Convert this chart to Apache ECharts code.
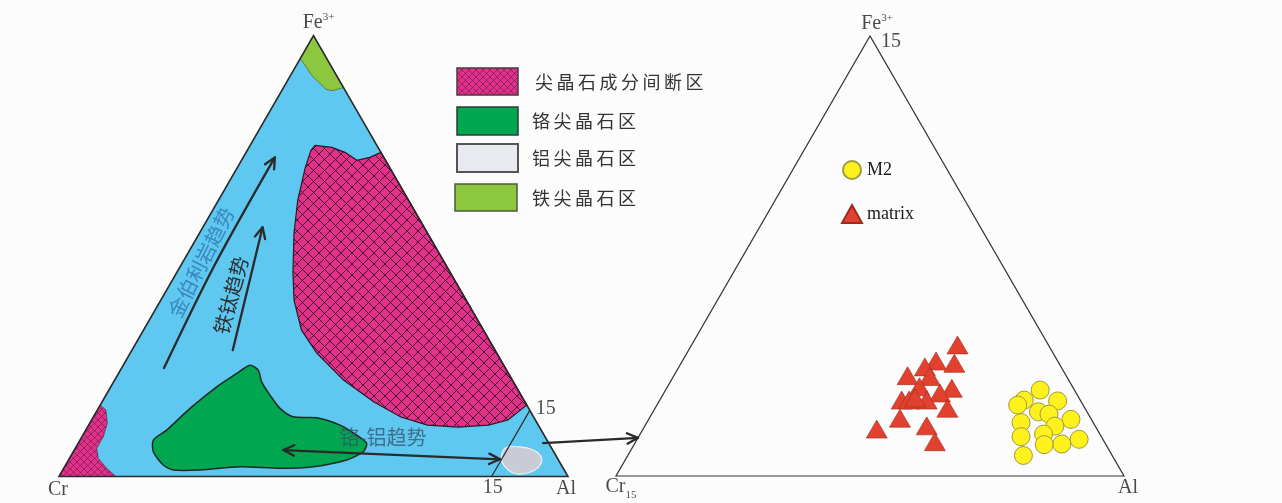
<!DOCTYPE html>
<html>
<head>
<meta charset="utf-8">
<script src="https://cdn.jsdelivr.net/npm/echarts@6/dist/echarts.min.js"></script>
<style>
  html, body { margin: 0; padding: 0; background: #fcfcfc; }
  #chart { width: 1282px; height: 503px; }
</style>
</head>
<body>
<div id="chart"></div>
<script>
// Cr – Al – Fe3+ ternary classification of spinel, with an enlargement of the Al corner.
// Every composition below is written as [Al, Fe3+] in percent; Cr makes up the rest.

const vertexLabels = ['Cr', 'Al', 'Fe', '3+'];
const legendNames = ['尖晶石成分间断区', '铬尖晶石区', '铝尖晶石区', '铁尖晶石区'];
const trendNames = ['金伯利岩趋势', '铁钛趋势', '铬-铝趋势'];
const seriesNames = ['M2', 'matrix'];
const zoomLimit = 15;            // enlargement covers Al >= 100 - zoomLimit

// compositional fields of the full diagram
const gapField = [
  [12.75, 75.08], [16.31, 74.63], [19.44, 73.50], [22.70, 71.69], [24.90, 72.37],
  [26.50, 73.50], [83.80, 16.19], [83.40, 15.50], [81.80, 12.80], [78.55, 11.66],
  [72.79, 11.21], [66.57, 11.66], [60.41, 13.48], [53.45, 16.87], [44.96, 21.86],
  [36.66, 27.97], [31.05, 33.18], [26.18, 39.98], [22.92, 46.09], [18.59, 55.15],
  [15.59, 62.63], [13.34, 70.10], [12.53, 73.95]
];
const gapFieldCr = [
  [0, 16.19], [1.70, 15.06], [3.47, 12.05], [4.20, 9.01], [4.22, 6.39],
  [5.66, 4.12], [8.44, 1.86], [11.20, 0], [0, 0]
];
const chromiteField = [
  [24.89, 25.25], [27.09, 24.12], [29.08, 21.47], [32.22, 18.46], [35.70, 15.45],
  [39.26, 13.54], [43.97, 13.32], [49.37, 11.66], [53.79, 9.40], [56.69, 7.52],
  [56.97, 5.62], [54.65, 3.74], [48.85, 2.22], [42.49, 1.86], [34.45, 2.22],
  [26.96, 1.47], [21.72, 1.47], [19.19, 2.60], [15.72, 5.62], [14.40, 8.27],
  [15.89, 10.53], [18.02, 15.45], [20.81, 20.34], [23.22, 23.37]
];
const aluminaField = [
  [84.43, 6.39], [86.55, 6.75], [90.18, 6.00], [92.77, 4.12], [93.12, 2.08],
  [91.77, 0.86], [89.64, 0.57], [87.53, 1.47], [85.10, 3.74]
];
const ferritField = [
  [0, 100], [0, 94.8], [4.25, 90.9], [8.55, 87.8], [10.06, 87.5], [11.8, 88.2]
];

// trend arrows and where their captions sit
const kimberliteTrend = [[8.34, 24.58], [6.61, 47.68], [6.22, 72.37]];
const feTiTrend = [[19.81, 28.65], [11.74, 56.51]];
const crAlTrend = [[41.07, 6.00], [84.69, 3.90]];
const trendCaptionAt = [[3.61, 48.58], [13.23, 41.11], [59.18, 8.95]];
const trendCaptionAngle = [63, 74.6, 0];

// connector from the Al corner to the enlarged diagram
const zoomFrom = [91.3, 7.59];   // full diagram
const zoomTo = [85.0, 1.30];     // enlarged diagram, on its Cr15–Fe15 side

// analyses plotted in the enlargement
const m2 = [
  [96.06, 2.93], [95.76, 2.59], [95.65, 2.42], [96.76, 2.56], [96.38, 2.19],
  [96.73, 2.11], [97.47, 1.93], [96.05, 1.82], [97.11, 1.70], [96.91, 1.43],
  [96.29, 1.34], [98.05, 1.25], [97.11, 1.07], [97.62, 1.09], [96.68, 0.70]
];
const matrix = [
  [92.85, 4.47], [92.49, 3.92], [93.07, 3.84], [92.26, 3.72], [91.90, 3.42],
  [92.57, 3.39], [92.44, 3.04], [93.42, 2.99], [93.15, 2.83], [92.14, 2.59],
  [92.36, 2.59], [92.88, 2.59], [93.63, 2.31], [92.40, 1.97], [93.32, 1.71],
  [91.90, 1.60], [93.83, 1.17], [92.50, 2.66]
];

const SQ = Math.sqrt(3) / 2;
// [Al, Fe] -> plane position of the equilateral diagram (Cr at the origin)
const tern = ([al, fe]) => [al + fe / 2, fe * SQ];

const SERIF = '"Liberation Serif", "DejaVu Serif", serif';
const CJK = '"Noto Sans CJK SC", "Noto Sans", sans-serif';
const BLUE = '#5fc8f1';
const PINK = '#e2318b';
const GREEN = '#00a650';
const LIME = '#8dc63f';
const ALGREY = '#c9ccd6';
const INK = '#2a2a2a';

function hatch(cell, bg, ink, width) {
  const c = document.createElement('canvas');
  c.width = cell; c.height = cell;
  const g = c.getContext('2d');
  g.fillStyle = bg;
  g.fillRect(0, 0, cell, cell);
  g.strokeStyle = ink;
  g.lineWidth = width;
  g.beginPath();
  g.moveTo(0, 0); g.lineTo(cell, cell);
  g.moveTo(cell, 0); g.lineTo(0, cell);
  g.stroke();
  return c;
}
const gapPattern = { image: hatch(11, PINK, 'rgba(45,10,30,0.85)', 1), repeat: 'repeat' };
const gapPatternSmall = { image: hatch(7, PINK, 'rgba(70,20,50,0.6)', 0.8), repeat: 'repeat' };

function area(points, style, smooth, axis) {
  return {
    type: 'custom', xAxisIndex: axis || 0, yAxisIndex: axis || 0,
    silent: true, clip: false, data: [[0, 0]],
    renderItem: (params, api) => ({
      type: 'polygon',
      shape: { points: points.map(p => api.coord(tern(p))), smooth: smooth || 0 },
      style: style
    })
  };
}

function chevron(tip, from, len, half) {
  const dx = tip[0] - from[0], dy = tip[1] - from[1];
  const d = Math.hypot(dx, dy);
  const ux = dx / d, uy = dy / d;
  const side = s => {
    const c = Math.cos(s * half), n = Math.sin(s * half);
    return [tip[0] - len * (ux * c - uy * n), tip[1] - len * (ux * n + uy * c)];
  };
  return [side(1), tip, side(-1)];
}

function arrowShapes(pts, both, smooth) {
  const line = { stroke: INK, lineWidth: 2.3, fill: null, lineCap: 'round', lineJoin: 'round' };
  const kids = [{ type: 'polyline', shape: { points: pts, smooth: smooth || 0 }, style: line }];
  const n = pts.length;
  kids.push({ type: 'polyline', shape: { points: chevron(pts[n - 1], pts[n - 2], 12, 0.45) }, style: line });
  if (both) kids.push({ type: 'polyline', shape: { points: chevron(pts[0], pts[1], 12, 0.45) }, style: line });
  return kids;
}

const trends = [
  { pts: kimberliteTrend, both: false, smooth: 0.3, color: '#3a86bf' },
  { pts: feTiTrend, both: false, smooth: 0, color: '#2e2e2e' },
  { pts: crAlTrend, both: true, smooth: 0, color: 'rgba(55,85,108,0.78)' }
];

const labelRich = {
  m: { fontFamily: SERIF, fontSize: 20, color: '#1a1a1a', lineHeight: 22 },
  sup: { fontFamily: SERIF, fontSize: 11, color: '#1a1a1a', verticalAlign: 'top', lineHeight: 11 },
  mb: { fontFamily: SERIF, fontSize: 20, color: '#1a1a1a', lineHeight: 22, padding: [0, 0, 6, 0] },
  sub: { fontFamily: SERIF, fontSize: 11, color: '#1a1a1a', verticalAlign: 'bottom', lineHeight: 11 }
};

function labelSeries(axis, items) {
  return {
    type: 'scatter', xAxisIndex: axis, yAxisIndex: axis, silent: true,
    symbolSize: 1, itemStyle: { color: 'transparent' }, z: 5,
    data: items.map(it => ({
      value: tern(it.at),
      label: {
        show: true, position: 'inside', offset: it.off, formatter: it.text,
        fontFamily: SERIF, fontSize: 20, color: '#1a1a1a', rich: labelRich
      }
    }))
  };
}

const tick = String(zoomLimit);
const cut = 100 - zoomLimit;

const chart = echarts.init(document.getElementById('chart'), null, { renderer: 'canvas' });

chart.setOption({
  animation: false,
  backgroundColor: '#fcfcfc',
  grid: [
    { left: 59, top: 35.5, width: 509, height: 441, outerBoundsMode: 'none' },
    { left: 616, top: 36, width: 508, height: 440, outerBoundsMode: 'none' }
  ],
  xAxis: [
    { type: 'value', gridIndex: 0, min: 0, max: 100, show: false },
    { type: 'value', gridIndex: 1, min: cut, max: 100, show: false }
  ],
  yAxis: [
    { type: 'value', gridIndex: 0, min: 0, max: 100 * SQ, show: false },
    { type: 'value', gridIndex: 1, min: 0, max: zoomLimit * SQ, show: false }
  ],
  legend: {
    data: seriesNames, orient: 'vertical', left: 841, top: 160, padding: 0,
    itemWidth: 20, itemHeight: 18, itemGap: 24, selectedMode: false,
    textStyle: { fontFamily: SERIF, fontSize: 18, color: '#1a1a1a' }
  },
  series: [
    // full diagram
    area([[0, 0], [100, 0], [0, 100]], { fill: BLUE }),
    area(gapFieldCr, { fill: gapPatternSmall, stroke: 'rgba(40,20,30,0.6)', lineWidth: 0.8 }),
    area(gapField, { fill: gapPattern, stroke: '#2a1a22', lineWidth: 1.2 }),
    area(chromiteField, { fill: GREEN, stroke: '#1d2a22', lineWidth: 1.5 }, 0.25),
    area(aluminaField, { fill: ALGREY, stroke: '#eef0f2', lineWidth: 1.2 }, 0.45),
    area(ferritField, { fill: LIME, stroke: '#5a6a3a', lineWidth: 0.8 }),
    {
      type: 'custom', xAxisIndex: 0, yAxisIndex: 0, silent: true, clip: false,
      data: trends.map((t, i) => [i, 0]),
      renderItem: (params, api) => {
        const t = trends[params.dataIndex];
        return { type: 'group', children: arrowShapes(t.pts.map(p => api.coord(tern(p))), t.both, t.smooth) };
      }
    },
    {
      type: 'custom', xAxisIndex: 0, yAxisIndex: 0, silent: true, clip: false,
      data: trendNames.map((n, i) => [i, 0]),
      renderItem: (params, api) => {
        const i = params.dataIndex;
        const p = api.coord(tern(trendCaptionAt[i]));
        return {
          type: 'text', x: p[0], y: p[1], rotation: trendCaptionAngle[i] * Math.PI / 180,
          style: {
            text: trendNames[i], fill: trends[i].color, fontSize: 20, fontFamily: CJK,
            align: 'center', verticalAlign: 'middle'
          }
        };
      }
    },
    {
      type: 'custom', xAxisIndex: 0, yAxisIndex: 0, silent: true, clip: false, data: [[0, 0]],
      renderItem: (params, api) => ({
        type: 'polyline',
        shape: { points: [[cut, zoomLimit], [cut, 0]].map(p => api.coord(tern(p))) },
        style: { stroke: INK, lineWidth: 1.2, fill: null }
      })
    },
    area([[0, 0], [100, 0], [0, 100]], { fill: null, stroke: INK, lineWidth: 1.6 }),
    labelSeries(0, [
      { at: [0, 100], off: [5, -13], text: '{m|' + vertexLabels[2] + '}{sup|' + vertexLabels[3] + '}' },
      { at: [0, 0], off: [-1, 13], text: vertexLabels[0] },
      { at: [100, 0], off: [-2, 12], text: vertexLabels[1] },
      { at: [cut, 0], off: [1, 11], text: tick },
      { at: [cut, zoomLimit], off: [16, -2], text: tick }
    ]),

    // enlarged Al corner
    area([[cut, 0], [100, 0], [cut, zoomLimit]], { fill: null, stroke: '#333', lineWidth: 1.2 }, 0, 1),
    {
      name: seriesNames[1], type: 'scatter', xAxisIndex: 1, yAxisIndex: 1,
      symbol: 'triangle', symbolSize: [21, 18], z: 3,
      itemStyle: { color: '#e2412f', borderColor: '#9b2b1f', borderWidth: 0.6, opacity: 1 },
      data: matrix.map(tern)
    },
    {
      name: seriesNames[0], type: 'scatter', xAxisIndex: 1, yAxisIndex: 1,
      symbol: 'circle', symbolSize: 18, z: 3,
      itemStyle: { color: '#fff21c', borderColor: '#a09a3c', borderWidth: 1, opacity: 1 },
      data: m2.map(tern)
    },
    labelSeries(1, [
      { at: [cut, zoomLimit], off: [7, -12], text: '{m|' + vertexLabels[2] + '}{sup|' + vertexLabels[3] + '}' },
      { at: [cut, zoomLimit], off: [21, 6], text: tick },
      { at: [cut, 0], off: [5, 14], text: '{mb|' + vertexLabels[0] + '}{sub|' + tick + '}' },
      { at: [100, 0], off: [4, 12], text: vertexLabels[1] }
    ])
  ]
});

// legend of the fields and the connector between both diagrams
const boxes = [
  { x: 457, y: 68, w: 61, h: 27, fill: gapPatternSmall, stroke: '#4a3a44', lw: 1.5, tx: 535 },
  { x: 457, y: 107, w: 61, h: 28, fill: GREEN, stroke: '#2f3a33', lw: 1.5, tx: 532 },
  { x: 457, y: 144, w: 61, h: 28, fill: '#e7ebef', stroke: '#555', lw: 2, tx: 532 },
  { x: 455, y: 184, w: 62, h: 27, fill: LIME, stroke: '#4c5a3c', lw: 1.5, tx: 532 }
];
const spaced = s => s.split('').map(ch => '{c|' + ch + '}').join('');
const graphics = [];
boxes.forEach((b, i) => {
  graphics.push({
    type: 'rect', shape: { x: b.x, y: b.y, width: b.w, height: b.h },
    style: { fill: b.fill, stroke: b.stroke, lineWidth: b.lw }, silent: true
  });
  graphics.push({
    type: 'text', x: b.tx, y: b.y + b.h / 2 + 0.5, silent: true,
    style: {
      text: spaced(legendNames[i]), verticalAlign: 'middle', align: 'left',
      rich: { c: { fontSize: 18, fontFamily: CJK, fill: '#333', padding: [0, 3.5, 0, 0] } }
    }
  });
});
const a = chart.convertToPixel({ gridIndex: 0 }, tern(zoomFrom));
const b = chart.convertToPixel({ gridIndex: 1 }, tern(zoomTo));
const link = { stroke: INK, lineWidth: 2.3, fill: null, lineCap: 'round', lineJoin: 'round' };
graphics.push({ type: 'polyline', shape: { points: [a, b] }, style: link, silent: true, z: 10 });
graphics.push({ type: 'polyline', shape: { points: chevron(b, a, 12, 0.45) }, style: link, silent: true, z: 10 });
chart.setOption({ graphic: graphics });
</script>
</body>
</html>
